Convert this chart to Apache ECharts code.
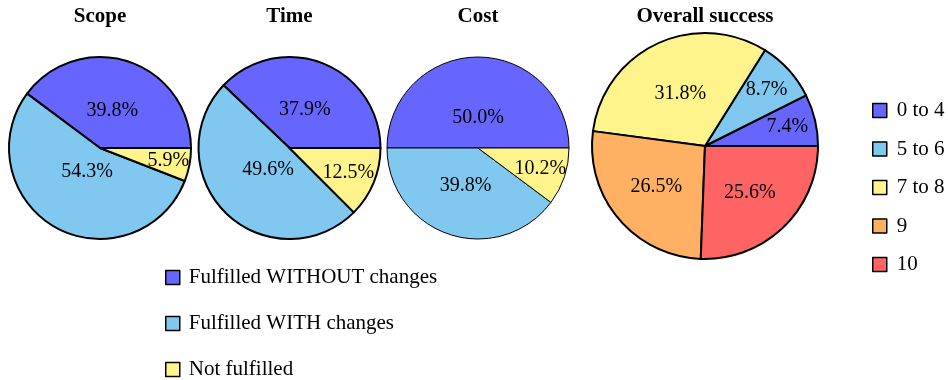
<!DOCTYPE html>
<html>
<head>
<meta charset="utf-8">
<script src="https://cdn.jsdelivr.net/npm/echarts@6/dist/echarts.min.js"></script>
<style>
  html, body { margin: 0; padding: 0; background: #fff; }
  #chart { width: 948px; height: 380px; }
</style>
</head>
<body>
<div id="chart"></div>
<script>
// data
const outcomes = ['Fulfilled WITHOUT changes', 'Fulfilled WITH changes', 'Not fulfilled']
const scopeVals = [39.8, 54.3, 5.9]
const timeVals = [37.9, 49.6, 12.5]
const costVals = [50.0, 39.8, 10.2]
const grades = ['0 to 4', '5 to 6', '7 to 8', '9', '10']
const overallVals = [7.4, 8.7, 31.8, 26.5, 25.6]

const titles = ['Scope', 'Time', 'Cost', 'Overall success']

const outcomeColors = ['#6666ff', '#80c8f0', '#fff48c']
const gradeColors = ['#6666ff', '#80c8f0', '#fff48c', '#ffb062', '#ff6464']

const font = 'Liberation Serif'

// pie geometry (layout only)
const centers = [[100, 148], [289.5, 148], [478, 148], [705, 146]]
const radii = [91, 91, 91, 113]
const borders = [2, 2, 1, 2]
const allVals = [scopeVals, timeVals, costVals, overallVals]

// labels sit further out on thin slices, nearer the middle on wide ones
function placeLabel(params) {
    const vals = allVals[params.seriesIndex]
    const total = vals.reduce((a, b) => a + b, 0)
    let before = 0
    for (let i = 0; i < params.dataIndex; i++) before += vals[i]
    const frac = vals[params.dataIndex] / total
    const mid = (before / total + frac / 2) * 2 * Math.PI
    const r = radii[params.seriesIndex]
    const d = r * (0.82 - 0.97 * frac)
    const c = centers[params.seriesIndex]
    return { x: c[0] + d * Math.cos(mid), y: c[1] - d * Math.sin(mid) }
}

function makePie(idx, names, colors) {
    return {
        name: titles[idx],
        type: 'pie',
        center: centers[idx],
        radius: radii[idx],
        startAngle: 0,
        clockwise: false,
        silent: true,
        itemStyle: { borderColor: '#000', borderWidth: borders[idx] },
        label: {
            position: 'inside',
            formatter: p => p.value.toFixed(1) + '%',
            color: '#000',
            fontFamily: font,
            fontSize: 20,
            align: 'center',
            verticalAlign: 'middle'
        },
        labelLine: { show: false },
        labelLayout: placeLabel,
        data: allVals[idx].map((v, i) => ({ name: names[i], value: v, itemStyle: { color: colors[i] } }))
    }
}

const legendCommon = {
    orient: 'vertical',
    padding: 0,
    height: 240,
    itemWidth: 14,
    itemHeight: 14,
    icon: 'rect',
    selectedMode: false,
    itemStyle: { borderColor: '#000', borderWidth: 1.5 },
    textStyle: { fontFamily: font, fontSize: 21, color: '#000' }
}

let option = {
    animation: false,
    title: titles.map((t, i) => ({
        text: t,
        left: centers[i][0],
        top: 6,
        padding: 0,
        textAlign: 'center',
        textStyle: { fontFamily: font, fontWeight: 'bold', fontSize: 21, color: '#000' }
    })),
    legend: [
        Object.assign({}, legendCommon, {
            left: 165,
            top: 267,
            itemGap: 25,
            textStyle: Object.assign({}, legendCommon.textStyle, { padding: [0, 0, 0, 4] }),
            data: outcomes
        }),
        Object.assign({}, legendCommon, {
            left: 872,
            top: 100,
            itemGap: 17.5,
            textStyle: Object.assign({}, legendCommon.textStyle, { padding: [0, 0, 0, 5] }),
            data: grades
        })
    ],
    series: [
        makePie(0, outcomes, outcomeColors),
        makePie(1, outcomes, outcomeColors),
        makePie(2, outcomes, outcomeColors),
        makePie(3, grades, gradeColors)
    ]
}

let mychart = echarts.init(document.getElementById('chart'))
mychart.setOption(option)
</script>
</body>
</html>
